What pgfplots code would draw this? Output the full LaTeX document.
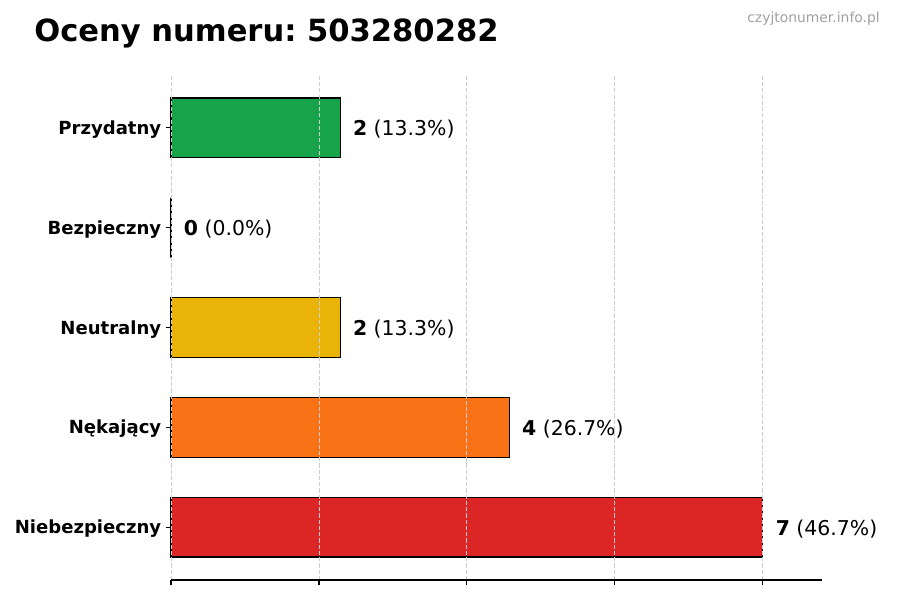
\documentclass[border=0pt]{standalone}
\usepackage{pgfplots}
\pgfplotsset{compat=1.18}
\usepackage{fontspec}
\setmainfont{DejaVu Sans}
\frenchspacing

\definecolor{cgreen}{RGB}{22,163,74}
\definecolor{cyellow}{RGB}{234,179,8}
\definecolor{corange}{RGB}{249,115,22}
\definecolor{cred}{RGB}{220,38,38}
\definecolor{cblue}{RGB}{59,130,246}
\definecolor{wmgray}{RGB}{160,160,160}

\begin{document}
\begin{tikzpicture}
    \path[use as bounding box] (0,0) rectangle (648pt,432pt);
    % title and watermark
    \node[anchor=base west, inner sep=0pt, font=\fontsize{22}{26}\selectfont\bfseries]
        at (24.5pt,402pt) {Oceny numeru: 503280282};
    \node[anchor=base east, inner sep=0pt, font=\fontsize{10}{12}\selectfont, text=wmgray]
        at (633.6pt,415.8pt) {czyjtonumer.info.pl};

    \begin{axis}[
        at = {(123.12pt,14.4pt)},
        anchor = south west,
        scale only axis,
        width = 468.72pt,
        height = 363.6pt,
        xbar,
        bar width = 0.6,
        bar shift = 0pt,
        xmin = 0, xmax = 7.7,
        ymin = -0.53, ymax = 4.53,
        axis x line* = bottom,
        axis y line* = left,
        y axis line style = {draw=none},
        x axis line style = {line width=0.8pt, -},
        xtick = {0,1.75,3.5,5.25,7},
        xticklabels = {},
        ytick = {0,1,2,3,4},
        yticklabels = {Niebezpieczny, Nękający, Neutralny, Bezpieczny, Przydatny},
        yticklabel style = {font=\fontsize{13}{15}\selectfont\bfseries, yshift=-1.2pt},
        tick align = outside,
        major tick length = 3.5pt,
        tick style = {line width=0.8pt, black},
        xmajorgrids,
        major grid style = {gray!40, line width=0.6pt, dash pattern=on 3pt off 1.5pt},
        axis on top,
        clip = false,
        every axis plot/.append style = {draw=black, line width=0.8pt},
    ]
    \addplot[fill=cred] coordinates {(7,0)};
    \addplot[fill=corange] coordinates {(4,1)};
    \addplot[fill=cyellow] coordinates {(2,2)};
    \addplot[fill=cblue] coordinates {(0,3)};
    \addplot[fill=cgreen] coordinates {(2,4)};

    \tikzset{vl/.style={anchor=west, inner sep=0pt, yshift=-1.2pt, font=\fontsize{14.7}{17}\selectfont}}
    \node[vl] at (axis cs:7.15,0) {\textbf{7} (46.7\%)};
    \node[vl] at (axis cs:4.15,1) {\textbf{4} (26.7\%)};
    \node[vl] at (axis cs:2.15,2) {\textbf{2} (13.3\%)};
    \node[vl] at (axis cs:0.15,3) {\textbf{0} (0.0\%)};
    \node[vl] at (axis cs:2.15,4) {\textbf{2} (13.3\%)};
    \end{axis}
\end{tikzpicture}
\end{document}
